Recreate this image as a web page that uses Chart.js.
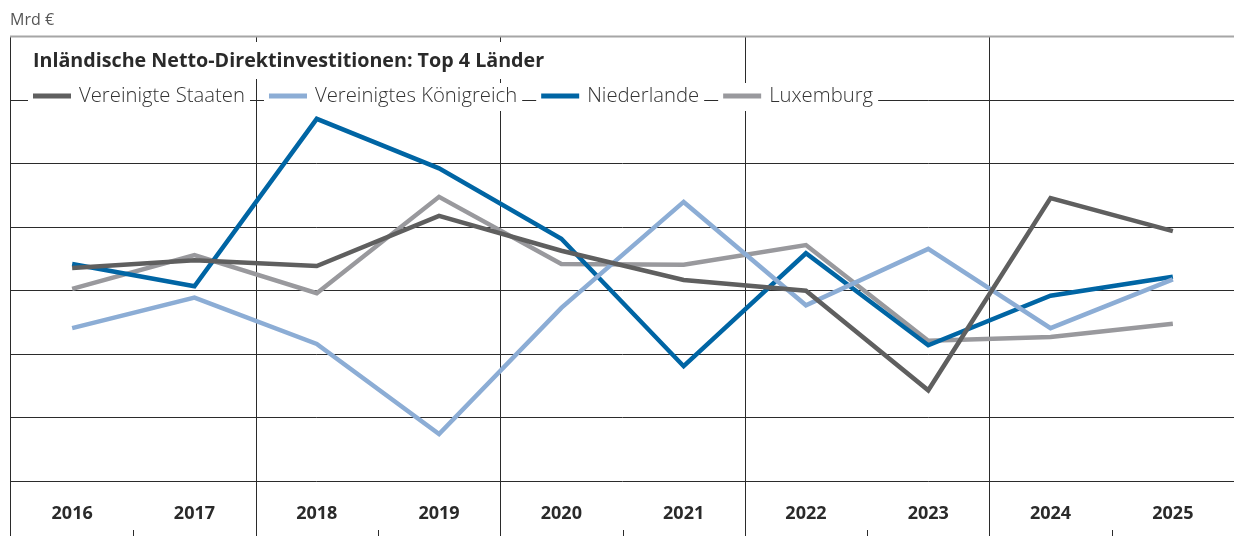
<!DOCTYPE html>
<html lang="de">
<head>
<meta charset="utf-8">
<title>Inländische Netto-Direktinvestitionen: Top 4 Länder</title>
<script src="https://cdn.jsdelivr.net/npm/chart.js@4"></script>
<style>
    html, body { margin: 0; padding: 0; background: #fff; }
    #wrap { width: 1234px; height: 536px; position: relative; }
</style>
</head>
<body>
<div id="wrap"><canvas id="chartDI"></canvas></div>
<script>
// DONNÉES
const years = ['2016', '2017', '2018', '2019', '2020', '2021', '2022', '2023', '2024', '2025'];
const vereinigteStaaten = [33.6, 34.8, 33.9, 41.8, 36.3, 31.7, 30.0, 14.3, 44.6, 39.4];
const vereinigtesKoenigreich = [24.1, 28.9, 21.6, 7.4, 27.3, 44.0, 27.7, 36.6, 24.1, 31.8];
const niederlande = [34.2, 30.7, 57.1, 49.3, 38.2, 18.1, 35.9, 21.4, 29.2, 32.2];
const luxemburg = [30.3, 35.6, 29.6, 44.8, 34.2, 34.1, 37.2, 22.1, 22.7, 24.8];
const yMin = 0, yMax = 70, yStep = 10;

const titleText = 'Inländische Netto-Direktinvestitionen: Top 4 Länder';
const unitText = 'Mrd €';
const FONT = '"Open Sans", "Noto Sans", sans-serif';

const series = [
    { label: 'Vereinigte Staaten', data: vereinigteStaaten, color: '#5f5f5f' },
    { label: 'Vereinigtes Königreich', data: vereinigtesKoenigreich, color: '#8cadd5' },
    { label: 'Niederlande', data: niederlande, color: '#0065a4' },
    { label: 'Luxemburg', data: luxemburg, color: '#99999d' }
];

// CADRE, TITRE ET LÉGENDE (dans la zone du graphique, sur fond blanc)
const framePlugin = {
    id: 'frame',
    beforeDatasetsDraw(chart) {
        const { ctx, chartArea: a, scales: { x } } = chart;
        const h = chart.height;
        const step = x.getPixelForTick(1) - x.getPixelForTick(0);
        ctx.save();

        // lignes verticales : une sur deux pleine hauteur, sinon petit trait en bas
        ctx.lineWidth = 1;
        ctx.strokeStyle = '#2b2b2b';
        for (let k = 0; k < years.length; k++) {
            const px = Math.round(x.getPixelForTick(k) - step / 2) + 0.5;
            ctx.beginPath();
            if (k === 0) { ctx.moveTo(10.5, a.top); ctx.lineTo(10.5, h); }
            else if (k % 2 === 0) { ctx.moveTo(px, a.top); ctx.lineTo(px, h); }
            else { ctx.moveTo(px, h - 6); ctx.lineTo(px, h); }
            ctx.stroke();
        }

        // ligne du haut
        ctx.strokeStyle = '#a6a6a6';
        ctx.lineWidth = 2;
        ctx.beginPath();
        ctx.moveTo(10, a.top - 0.5);
        ctx.lineTo(chart.width, a.top - 0.5);
        ctx.stroke();

        // titre
        ctx.font = 'bold 19.7px ' + FONT;
        ctx.textBaseline = 'middle';
        const tw = ctx.measureText(titleText).width;
        ctx.fillStyle = '#fff';
        ctx.fillRect(28, 42, tw + 10, 37);
        ctx.fillStyle = '#2a2a2a';
        ctx.fillText(titleText, 33, 61);

        // légende
        ctx.font = '300 20.3px ' + FONT;
        let x0 = 33;
        const ly = 96;
        series.forEach(s => {
            const w = ctx.measureText(s.label).width;
            const textX = x0 + 46;
            ctx.fillStyle = '#fff';
            ctx.fillRect(x0 - 5, 83, textX + w + 5 - (x0 - 5), 28);
            ctx.fillStyle = s.color;
            ctx.fillRect(x0, ly - 2.5, 38, 5);
            ctx.fillStyle = '#333';
            ctx.fillText(s.label, textX, ly);
            x0 = textX + w + 24;
        });
        ctx.restore();
    },
    afterDraw(chart) {
        const ctx = chart.ctx;
        ctx.save();
        ctx.font = '16px ' + FONT;
        ctx.fillStyle = '#555';
        ctx.textBaseline = 'middle';
        ctx.fillText(unitText, 10, 20);
        ctx.restore();
    }
};

document.addEventListener('DOMContentLoaded', function () {
    const ctx = document.getElementById('chartDI').getContext('2d');
    new Chart(ctx, {
        type: 'line',
        data: {
            labels: years,
            datasets: series.map(s => ({
                label: s.label,
                data: s.data,
                borderColor: s.color,
                backgroundColor: s.color,
                borderWidth: 4.5,
                pointRadius: 0,
                tension: 0,
                fill: false,
                borderJoinStyle: 'miter',
                borderCapStyle: 'butt'
            }))
        },
        options: {
            responsive: true,
            maintainAspectRatio: false,
            animation: false,
            devicePixelRatio: 1,
            layout: { padding: { left: 11, top: 37, right: 0, bottom: 0 } },
            plugins: { legend: { display: false }, tooltip: { enabled: false }, title: { display: false } },
            scales: {
                x: {
                    offset: true,
                    grid: { display: false },
                    border: { display: false },
                    ticks: { color: '#2a2a2a', font: { family: FONT, size: 18, weight: 'bold' }, padding: 14, maxRotation: 0 },
                    afterFit(scale) { scale.height = 55; }
                },
                y: {
                    min: yMin,
                    max: yMax,
                    ticks: { stepSize: yStep, display: false },
                    border: { display: false },
                    grid: {
                        drawTicks: false,
                        color: c => (c.tick && c.tick.value === yMax) ? 'rgba(0,0,0,0)' : '#2b2b2b',
                        lineWidth: 1
                    },
                    afterFit(scale) { scale.width = 0; }
                }
            }
        },
        plugins: [framePlugin]
    });
});
</script>
</body>
</html>
